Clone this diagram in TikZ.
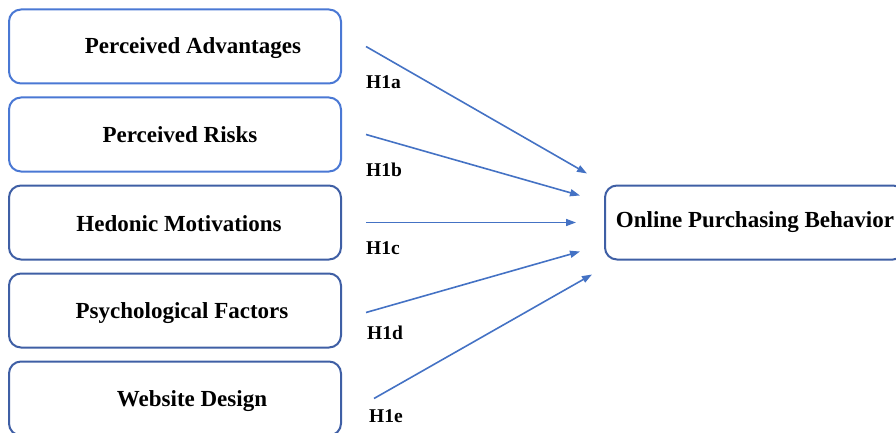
\documentclass[tikz,border=0pt]{standalone}
\usepackage{fontspec}
\setmainfont{Liberation Serif}
\usetikzlibrary{arrows.meta, positioning}
\definecolor{FactorBlue}{HTML}{4A78D4}
\definecolor{FactorNavy}{HTML}{3F5FA5}
\definecolor{ArrowBlue}{HTML}{4472C4}

\begin{document}
\begin{tikzpicture}[
    x=1pt, y=1pt,
    >={Triangle[length=10pt, width=7pt]},
    factor/.style={rectangle, rounded corners=12pt, draw=FactorNavy,
                   line width=2pt, minimum width=332pt, minimum height=74pt,
                   inner sep=0pt, font=\fontsize{23}{27}\selectfont\bfseries},
    factortext/.style={font=\fontsize{23}{27}\selectfont\bfseries, inner sep=0pt},
    hyp/.style={font=\fontsize{19.5}{22}\selectfont\bfseries, anchor=west, inner sep=0pt},
    arr/.style={->, color=ArrowBlue, line width=1.6pt}
]
\useasboundingbox (0,0) rectangle (896,432);

% --- Factor boxes -------------------------------------------------------
\node[factor, draw=FactorBlue]                   (adv)  at (175,385.5) {};
\node[factor, draw=FactorBlue, below=12pt of adv] (risk) {};
\node[factor, below=12pt of risk]                (hed)  {};
\node[factor, below=12pt of hed]                 (psy)  {};
\node[factor, below=12pt of psy]                 (web)  {};

\node[factortext] (advtext)  at ([shift={(18pt,-2pt)}]adv.center) {Perceived Advantages};
\node[factortext] (risktext) at ([xshift=5pt]risk.center)          {Perceived Risks};
\node[factortext] (hedtext)  at ([shift={(4pt,-1pt)}]hed.center)   {Hedonic Motivations};
\node[factortext] (psytext)  at ([shift={(7pt,-3pt)}]psy.center)   {Psychological Factors};
\node[factortext] (webtext)  at ([shift={(17pt,-3pt)}]web.center)  {Website Design};

% --- Outcome ------------------------------------------------------------
\node[factor, minimum width=300pt, right=262pt of hed] (opb) {Online Purchasing Behavior};

% --- Hypotheses ---------------------------------------------------------
\draw[arr] ([xshift=24pt]adv.east)                -- ([shift={(-17pt,49pt)}]opb.west);
\draw[arr] ([xshift=24pt]risk.east)               -- ([shift={(-24pt,27pt)}]opb.west);
\draw[arr] ([xshift=24pt]hed.east)                -- ([xshift=-28pt]opb.west);
\draw[arr] ([shift={(24pt,-2pt)}]psy.east)        -- ([shift={(-24pt,-29pt)}]opb.west);
\draw[arr] ([xshift=32pt]web.east)                -- ([shift={(-12pt,-52pt)}]opb.west);

\node[hyp] (h1a) at ([shift={(24pt,-35.5pt)}]adv.east) {H1a};
\node[hyp] (h1b) at ([shift={(24pt,-35pt)}]risk.east)  {H1b};
\node[hyp] (h1c) at ([shift={(24pt,-26pt)}]hed.east)   {H1c};
\node[hyp] (h1d) at ([shift={(25pt,-22pt)}]psy.east)   {H1d};
\node[hyp] (h1e) at ([shift={(27pt,-18pt)}]web.east)   {H1e};

\end{tikzpicture}
\end{document}
